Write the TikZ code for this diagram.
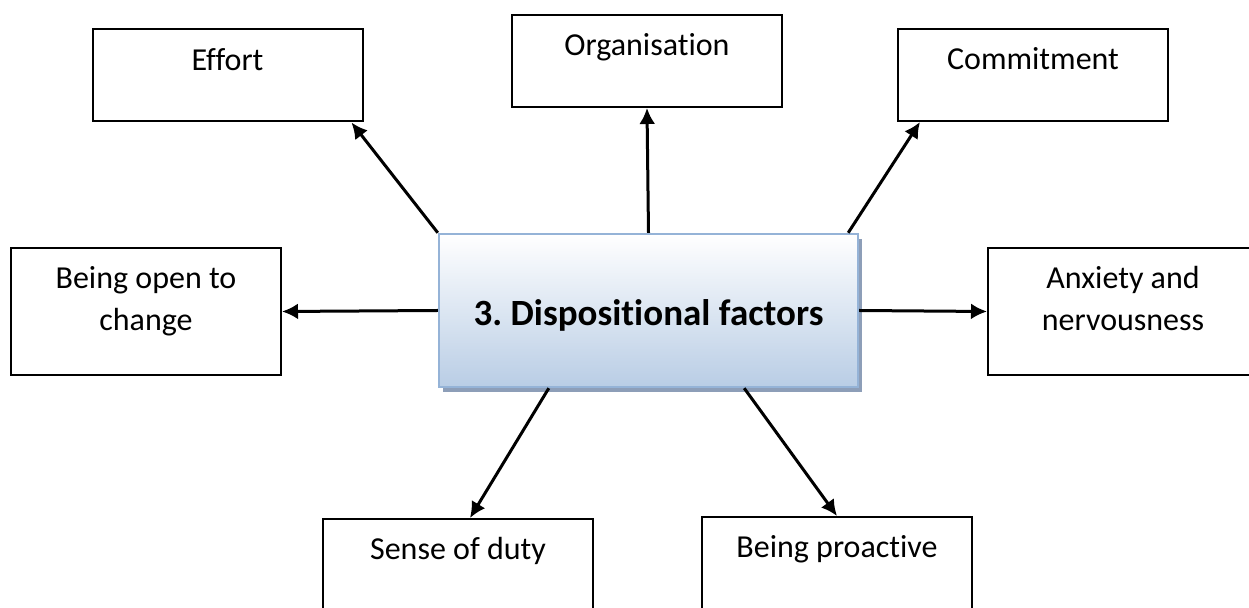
\documentclass[tikz,border=0pt]{standalone}
\usepackage{fontspec}
\setmainfont{Carlito}[Ligatures={NoCommon}]
\usetikzlibrary{arrows.meta,shadows}

\definecolor{bleuclair}{RGB}{185,205,229}
\definecolor{bleubord}{RGB}{149,179,215}
\definecolor{ombre}{RGB}{141,158,184}

\begin{document}
\begin{tikzpicture}[x=0.5pt,y=-0.5pt]
    % Styles
    \tikzstyle{fleche}=[->,>={Latex[length=8pt,width=8pt]},line width=1.5pt]
    \tikzstyle{boite}=[draw,line width=1pt,fill=white,minimum width=135pt,minimum height=46pt]
    \tikzstyle{boiteB}=[boite,minimum height=63.5pt]
    \tikzstyle{etiquette}=[anchor=base,yshift=-21pt,align=center,inner sep=0pt,
        font=\fontsize{16}{21}\selectfont]
    \tikzstyle{etiquetteB}=[etiquette,yshift=-21pt]
    \tikzstyle{centre}=[draw=bleubord,line width=1.2pt,top color=white,bottom color=bleuclair,
        minimum width=209.5pt,minimum height=76.5pt,text height=19.5pt,text depth=4pt,
        font=\fontsize{18.5}{22}\selectfont\bfseries,
        drop shadow={shadow xshift=2pt,shadow yshift=-2.5pt,fill=ombre,opacity=1}]
    \useasboundingbox (0,0) rectangle (1249,608);
    % Noeuds
    \node[centre] (C) at (648.5,310.5) {3.\ Dispositional factors};
    \node[boite] (Ce) at (227.5,75.5) [label={[etiquette]north:Effort}] {};
    \node[boite] (Co) at (647,61) [label={[etiquette]north:Organisation}] {};
    \node[boite] (Cc) at (1033,75) [label={[etiquette]north:Commitment}] {};
    \node[boiteB] (Cg) at (146,311.5) [label={[etiquetteB]north:Being open to\\change}] {};
    \node[boiteB] (Cd) at (1123,311.5) [label={[etiquetteB]north:Anxiety and\\nervousness}] {};
    \node[boiteB] (Cs) at (458,582.5) [label={[etiquette]north:Sense of duty}] {};
    \node[boiteB] (Cp) at (837,580.5) [label={[etiquette]north:Being proactive}] {};
    % Arcs
    \draw[fleche] (C.north west)--([xshift=-6pt]Ce.south east) ;
    \draw[fleche] (C.north)--(Co.south) ;
    \draw[fleche] ([xshift=-5.5pt]C.north east)--([xshift=11.5pt]Cc.south west) ;
    \draw[fleche] (C.west)--(Cg.east) ;
    \draw[fleche] (C.east)--(Cd.west) ;
    \draw[fleche] ([xshift=55.5pt]C.south west)--([xshift=6pt]Cs.north) ;
    \draw[fleche] ([xshift=-57.5pt]C.south east)--(Cp.north) ;
\end{tikzpicture}
\end{document}
